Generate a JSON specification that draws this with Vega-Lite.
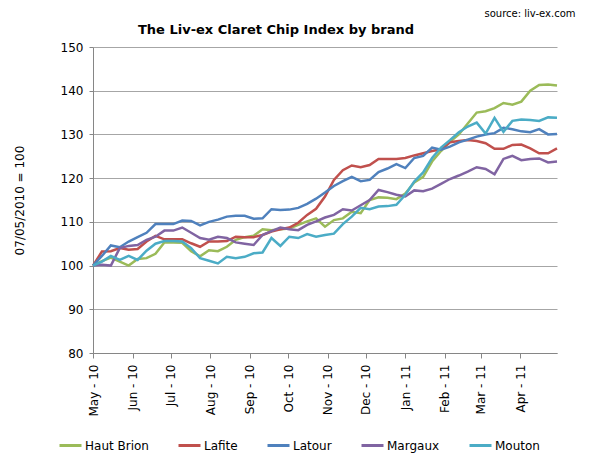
{
"$schema":"https://vega.github.io/schema/vega-lite/v6.json",
"width":464,"height":306,
"autosize":{"type":"none"},
"padding":{"left":93,"top":47,"right":43,"bottom":116},
"background":"white",
"config":{"view":{"stroke":null},"font":"DejaVu Sans"},
"title":{"text":"The Liv-ex Claret Chip Index by brand","font":"DejaVu Sans","fontSize":13,"fontWeight":"bold","color":"black","anchor":"middle","dx":-49,"dy":39,"offset":10},
"data":{"values":[
{"d":"2010-05-07","s":"Haut Brion","v":100},{"d":"2010-05-14","s":"Haut Brion","v":101.0},{"d":"2010-05-21","s":"Haut Brion","v":101.8},{"d":"2010-05-28","s":"Haut Brion","v":100.9},{"d":"2010-06-04","s":"Haut Brion","v":100.0},{"d":"2010-06-11","s":"Haut Brion","v":101.5},{"d":"2010-06-18","s":"Haut Brion","v":101.7},{"d":"2010-06-25","s":"Haut Brion","v":102.7},{"d":"2010-07-02","s":"Haut Brion","v":105.3},{"d":"2010-07-09","s":"Haut Brion","v":105.3},
{"d":"2010-07-16","s":"Haut Brion","v":105.2},{"d":"2010-07-23","s":"Haut Brion","v":103.3},{"d":"2010-07-30","s":"Haut Brion","v":102.1},{"d":"2010-08-06","s":"Haut Brion","v":103.5},{"d":"2010-08-13","s":"Haut Brion","v":103.3},{"d":"2010-08-20","s":"Haut Brion","v":104.3},{"d":"2010-08-27","s":"Haut Brion","v":105.9},{"d":"2010-09-03","s":"Haut Brion","v":106.5},{"d":"2010-09-10","s":"Haut Brion","v":106.8},{"d":"2010-09-17","s":"Haut Brion","v":108.3},
{"d":"2010-09-24","s":"Haut Brion","v":108.1},{"d":"2010-10-01","s":"Haut Brion","v":108.3},{"d":"2010-10-08","s":"Haut Brion","v":108.5},{"d":"2010-10-15","s":"Haut Brion","v":109.3},{"d":"2010-10-22","s":"Haut Brion","v":110.1},{"d":"2010-10-29","s":"Haut Brion","v":110.8},{"d":"2010-11-05","s":"Haut Brion","v":108.9},{"d":"2010-11-12","s":"Haut Brion","v":110.4},{"d":"2010-11-19","s":"Haut Brion","v":110.8},{"d":"2010-11-26","s":"Haut Brion","v":112.3},
{"d":"2010-12-03","s":"Haut Brion","v":112.0},{"d":"2010-12-10","s":"Haut Brion","v":115.0},{"d":"2010-12-17","s":"Haut Brion","v":115.6},{"d":"2010-12-24","s":"Haut Brion","v":115.5},{"d":"2010-12-31","s":"Haut Brion","v":115.2},{"d":"2011-01-07","s":"Haut Brion","v":116.5},{"d":"2011-01-14","s":"Haut Brion","v":119.0},{"d":"2011-01-21","s":"Haut Brion","v":120.3},{"d":"2011-01-28","s":"Haut Brion","v":123.8},{"d":"2011-02-04","s":"Haut Brion","v":126.2},
{"d":"2011-02-11","s":"Haut Brion","v":128.3},{"d":"2011-02-18","s":"Haut Brion","v":130.0},{"d":"2011-02-25","s":"Haut Brion","v":132.5},{"d":"2011-03-04","s":"Haut Brion","v":135.0},{"d":"2011-03-11","s":"Haut Brion","v":135.3},{"d":"2011-03-18","s":"Haut Brion","v":136.0},{"d":"2011-03-25","s":"Haut Brion","v":137.2},{"d":"2011-04-01","s":"Haut Brion","v":136.8},{"d":"2011-04-08","s":"Haut Brion","v":137.5},{"d":"2011-04-15","s":"Haut Brion","v":140.0},
{"d":"2011-04-22","s":"Haut Brion","v":141.3},{"d":"2011-04-29","s":"Haut Brion","v":141.4},{"d":"2011-05-06","s":"Haut Brion","v":141.2},

{"d":"2010-05-07","s":"Lafite","v":100},{"d":"2010-05-14","s":"Lafite","v":103.2},{"d":"2010-05-21","s":"Lafite","v":103.3},{"d":"2010-05-28","s":"Lafite","v":104.0},{"d":"2010-06-04","s":"Lafite","v":103.6},{"d":"2010-06-11","s":"Lafite","v":103.8},{"d":"2010-06-18","s":"Lafite","v":105.5},{"d":"2010-06-25","s":"Lafite","v":106.8},{"d":"2010-07-02","s":"Lafite","v":106.0},{"d":"2010-07-09","s":"Lafite","v":106.0},
{"d":"2010-07-16","s":"Lafite","v":106.0},{"d":"2010-07-23","s":"Lafite","v":105.1},{"d":"2010-07-30","s":"Lafite","v":104.3},{"d":"2010-08-06","s":"Lafite","v":105.5},{"d":"2010-08-13","s":"Lafite","v":105.5},{"d":"2010-08-20","s":"Lafite","v":105.6},{"d":"2010-08-27","s":"Lafite","v":106.6},{"d":"2010-09-03","s":"Lafite","v":106.5},{"d":"2010-09-10","s":"Lafite","v":106.5},{"d":"2010-09-17","s":"Lafite","v":107.0},
{"d":"2010-09-24","s":"Lafite","v":107.8},{"d":"2010-10-01","s":"Lafite","v":108.3},{"d":"2010-10-08","s":"Lafite","v":108.7},{"d":"2010-10-15","s":"Lafite","v":109.8},{"d":"2010-10-22","s":"Lafite","v":111.6},{"d":"2010-10-29","s":"Lafite","v":113.0},{"d":"2010-11-05","s":"Lafite","v":115.8},{"d":"2010-11-12","s":"Lafite","v":119.6},{"d":"2010-11-19","s":"Lafite","v":121.8},{"d":"2010-11-26","s":"Lafite","v":122.9},
{"d":"2010-12-03","s":"Lafite","v":122.5},{"d":"2010-12-10","s":"Lafite","v":123.0},{"d":"2010-12-17","s":"Lafite","v":124.4},{"d":"2010-12-24","s":"Lafite","v":124.4},{"d":"2010-12-31","s":"Lafite","v":124.4},{"d":"2011-01-07","s":"Lafite","v":124.6},{"d":"2011-01-14","s":"Lafite","v":125.2},{"d":"2011-01-21","s":"Lafite","v":125.7},{"d":"2011-01-28","s":"Lafite","v":126.2},{"d":"2011-02-04","s":"Lafite","v":126.6},
{"d":"2011-02-11","s":"Lafite","v":128.2},{"d":"2011-02-18","s":"Lafite","v":128.5},{"d":"2011-02-25","s":"Lafite","v":128.7},{"d":"2011-03-04","s":"Lafite","v":128.5},{"d":"2011-03-11","s":"Lafite","v":128.0},{"d":"2011-03-18","s":"Lafite","v":126.7},{"d":"2011-03-25","s":"Lafite","v":126.7},{"d":"2011-04-01","s":"Lafite","v":127.6},{"d":"2011-04-08","s":"Lafite","v":127.7},{"d":"2011-04-15","s":"Lafite","v":126.8},
{"d":"2011-04-22","s":"Lafite","v":125.7},{"d":"2011-04-29","s":"Lafite","v":125.7},{"d":"2011-05-06","s":"Lafite","v":126.8},

{"d":"2010-05-07","s":"Latour","v":100},{"d":"2010-05-14","s":"Latour","v":102.2},{"d":"2010-05-21","s":"Latour","v":104.6},{"d":"2010-05-28","s":"Latour","v":104.2},{"d":"2010-06-04","s":"Latour","v":105.5},{"d":"2010-06-11","s":"Latour","v":106.5},{"d":"2010-06-18","s":"Latour","v":107.5},{"d":"2010-06-25","s":"Latour","v":109.5},{"d":"2010-07-02","s":"Latour","v":109.5},{"d":"2010-07-09","s":"Latour","v":109.5},
{"d":"2010-07-16","s":"Latour","v":110.3},{"d":"2010-07-23","s":"Latour","v":110.2},{"d":"2010-07-30","s":"Latour","v":109.2},{"d":"2010-08-06","s":"Latour","v":110.0},{"d":"2010-08-13","s":"Latour","v":110.5},{"d":"2010-08-20","s":"Latour","v":111.2},{"d":"2010-08-27","s":"Latour","v":111.4},{"d":"2010-09-03","s":"Latour","v":111.4},{"d":"2010-09-10","s":"Latour","v":110.7},{"d":"2010-09-17","s":"Latour","v":110.8},
{"d":"2010-09-24","s":"Latour","v":112.9},{"d":"2010-10-01","s":"Latour","v":112.7},{"d":"2010-10-08","s":"Latour","v":112.8},{"d":"2010-10-15","s":"Latour","v":113.2},{"d":"2010-10-22","s":"Latour","v":114.1},{"d":"2010-10-29","s":"Latour","v":115.3},{"d":"2010-11-05","s":"Latour","v":116.7},{"d":"2010-11-12","s":"Latour","v":118.2},{"d":"2010-11-19","s":"Latour","v":119.3},{"d":"2010-11-26","s":"Latour","v":120.3},
{"d":"2010-12-03","s":"Latour","v":119.3},{"d":"2010-12-10","s":"Latour","v":119.6},{"d":"2010-12-17","s":"Latour","v":121.4},{"d":"2010-12-24","s":"Latour","v":122.2},{"d":"2010-12-31","s":"Latour","v":123.2},{"d":"2011-01-07","s":"Latour","v":122.3},{"d":"2011-01-14","s":"Latour","v":124.6},{"d":"2011-01-21","s":"Latour","v":125.1},{"d":"2011-01-28","s":"Latour","v":127.0},{"d":"2011-02-04","s":"Latour","v":126.5},
{"d":"2011-02-11","s":"Latour","v":127.2},{"d":"2011-02-18","s":"Latour","v":128.2},{"d":"2011-02-25","s":"Latour","v":128.8},{"d":"2011-03-04","s":"Latour","v":129.5},{"d":"2011-03-11","s":"Latour","v":130.0},{"d":"2011-03-18","s":"Latour","v":130.3},{"d":"2011-03-25","s":"Latour","v":131.5},{"d":"2011-04-01","s":"Latour","v":131.2},{"d":"2011-04-08","s":"Latour","v":130.7},{"d":"2011-04-15","s":"Latour","v":130.5},
{"d":"2011-04-22","s":"Latour","v":131.2},{"d":"2011-04-29","s":"Latour","v":130.0},{"d":"2011-05-06","s":"Latour","v":130.1},

{"d":"2010-05-07","s":"Margaux","v":100},{"d":"2010-05-14","s":"Margaux","v":100.2},{"d":"2010-05-21","s":"Margaux","v":100.0},{"d":"2010-05-28","s":"Margaux","v":104.0},{"d":"2010-06-04","s":"Margaux","v":104.5},{"d":"2010-06-11","s":"Margaux","v":104.7},{"d":"2010-06-18","s":"Margaux","v":105.9},{"d":"2010-06-25","s":"Margaux","v":106.6},{"d":"2010-07-02","s":"Margaux","v":108.0},{"d":"2010-07-09","s":"Margaux","v":108.0},
{"d":"2010-07-16","s":"Margaux","v":108.7},{"d":"2010-07-23","s":"Margaux","v":107.5},{"d":"2010-07-30","s":"Margaux","v":106.3},{"d":"2010-08-06","s":"Margaux","v":105.9},{"d":"2010-08-13","s":"Margaux","v":106.6},{"d":"2010-08-20","s":"Margaux","v":106.3},{"d":"2010-08-27","s":"Margaux","v":105.3},{"d":"2010-09-03","s":"Margaux","v":105.0},{"d":"2010-09-10","s":"Margaux","v":104.7},{"d":"2010-09-17","s":"Margaux","v":107.0},
{"d":"2010-09-24","s":"Margaux","v":107.9},{"d":"2010-10-01","s":"Margaux","v":108.7},{"d":"2010-10-08","s":"Margaux","v":108.3},{"d":"2010-10-15","s":"Margaux","v":108.1},{"d":"2010-10-22","s":"Margaux","v":109.3},{"d":"2010-10-29","s":"Margaux","v":110.1},{"d":"2010-11-05","s":"Margaux","v":111.0},{"d":"2010-11-12","s":"Margaux","v":111.6},{"d":"2010-11-19","s":"Margaux","v":112.9},{"d":"2010-11-26","s":"Margaux","v":112.6},
{"d":"2010-12-03","s":"Margaux","v":113.8},{"d":"2010-12-10","s":"Margaux","v":115.0},{"d":"2010-12-17","s":"Margaux","v":117.3},{"d":"2010-12-24","s":"Margaux","v":116.8},{"d":"2010-12-31","s":"Margaux","v":116.2},{"d":"2011-01-07","s":"Margaux","v":115.8},{"d":"2011-01-14","s":"Margaux","v":117.2},{"d":"2011-01-21","s":"Margaux","v":117.0},{"d":"2011-01-28","s":"Margaux","v":117.6},{"d":"2011-02-04","s":"Margaux","v":118.7},
{"d":"2011-02-11","s":"Margaux","v":119.8},{"d":"2011-02-18","s":"Margaux","v":120.6},{"d":"2011-02-25","s":"Margaux","v":121.5},{"d":"2011-03-04","s":"Margaux","v":122.5},{"d":"2011-03-11","s":"Margaux","v":122.1},{"d":"2011-03-18","s":"Margaux","v":120.9},{"d":"2011-03-25","s":"Margaux","v":124.4},{"d":"2011-04-01","s":"Margaux","v":125.1},{"d":"2011-04-08","s":"Margaux","v":124.1},{"d":"2011-04-15","s":"Margaux","v":124.4},
{"d":"2011-04-22","s":"Margaux","v":124.5},{"d":"2011-04-29","s":"Margaux","v":123.6},{"d":"2011-05-06","s":"Margaux","v":123.8},

{"d":"2010-05-07","s":"Mouton","v":100},{"d":"2010-05-14","s":"Mouton","v":100.9},{"d":"2010-05-21","s":"Mouton","v":102.2},{"d":"2010-05-28","s":"Mouton","v":101.3},{"d":"2010-06-04","s":"Mouton","v":102.2},{"d":"2010-06-11","s":"Mouton","v":101.3},{"d":"2010-06-18","s":"Mouton","v":103.4},{"d":"2010-06-25","s":"Mouton","v":105.0},{"d":"2010-07-02","s":"Mouton","v":105.6},{"d":"2010-07-09","s":"Mouton","v":105.6},
{"d":"2010-07-16","s":"Mouton","v":105.5},{"d":"2010-07-23","s":"Mouton","v":104.0},{"d":"2010-07-30","s":"Mouton","v":101.7},{"d":"2010-08-06","s":"Mouton","v":101.1},{"d":"2010-08-13","s":"Mouton","v":100.5},{"d":"2010-08-20","s":"Mouton","v":102.0},{"d":"2010-08-27","s":"Mouton","v":101.7},{"d":"2010-09-03","s":"Mouton","v":102.0},{"d":"2010-09-10","s":"Mouton","v":102.8},{"d":"2010-09-17","s":"Mouton","v":103.0},
{"d":"2010-09-24","s":"Mouton","v":106.3},{"d":"2010-10-01","s":"Mouton","v":104.5},{"d":"2010-10-08","s":"Mouton","v":106.6},{"d":"2010-10-15","s":"Mouton","v":106.3},{"d":"2010-10-22","s":"Mouton","v":107.2},{"d":"2010-10-29","s":"Mouton","v":106.6},{"d":"2010-11-05","s":"Mouton","v":107.0},{"d":"2010-11-12","s":"Mouton","v":107.3},{"d":"2010-11-19","s":"Mouton","v":109.5},{"d":"2010-11-26","s":"Mouton","v":111.2},
{"d":"2010-12-03","s":"Mouton","v":113.2},{"d":"2010-12-10","s":"Mouton","v":112.9},{"d":"2010-12-17","s":"Mouton","v":113.5},{"d":"2010-12-24","s":"Mouton","v":113.6},{"d":"2010-12-31","s":"Mouton","v":113.9},{"d":"2011-01-07","s":"Mouton","v":116.2},{"d":"2011-01-14","s":"Mouton","v":119.2},{"d":"2011-01-21","s":"Mouton","v":121.3},{"d":"2011-01-28","s":"Mouton","v":124.6},{"d":"2011-02-04","s":"Mouton","v":127.0},
{"d":"2011-02-11","s":"Mouton","v":128.7},{"d":"2011-02-18","s":"Mouton","v":130.5},{"d":"2011-02-25","s":"Mouton","v":131.8},{"d":"2011-03-04","s":"Mouton","v":132.7},{"d":"2011-03-11","s":"Mouton","v":130.2},{"d":"2011-03-18","s":"Mouton","v":133.8},{"d":"2011-03-25","s":"Mouton","v":130.6},{"d":"2011-04-01","s":"Mouton","v":133.1},{"d":"2011-04-08","s":"Mouton","v":133.4},{"d":"2011-04-15","s":"Mouton","v":133.3},
{"d":"2011-04-22","s":"Mouton","v":133.1},{"d":"2011-04-29","s":"Mouton","v":133.9},{"d":"2011-05-06","s":"Mouton","v":133.8}
]},
"layer":[
{"mark":{"type":"line","strokeWidth":2.5},
 "encoding":{
  "x":{"field":"d","type":"temporal",
   "scale":{"type":"utc","domain":[{"year":2010,"month":5,"date":7,"utc":true},{"year":2011,"month":5,"date":6,"utc":true}]},
   "axis":{"title":null,"grid":false,"format":"%b - %y","labelAngle":270,"labelFontSize":12,"labelColor":"black","labelPadding":6,"tickSize":5,"tickColor":"#868686","domainColor":"#868686",
    "values":[{"year":2010,"month":5,"date":7,"utc":true},{"year":2010,"month":6,"date":7,"utc":true},{"year":2010,"month":7,"date":7,"utc":true},{"year":2010,"month":8,"date":7,"utc":true},{"year":2010,"month":9,"date":7,"utc":true},{"year":2010,"month":10,"date":7,"utc":true},{"year":2010,"month":11,"date":7,"utc":true},{"year":2010,"month":12,"date":7,"utc":true},{"year":2011,"month":1,"date":7,"utc":true},{"year":2011,"month":2,"date":7,"utc":true},{"year":2011,"month":3,"date":7,"utc":true},{"year":2011,"month":4,"date":7,"utc":true}]}},
  "y":{"field":"v","type":"quantitative","scale":{"domain":[80,150],"nice":false,"zero":false},
   "axis":{"values":[80,90,100,110,120,130,140,150],"grid":true,"gridColor":"#a6a6a6","domainColor":"#868686","tickColor":"#868686","tickSize":4,"labelFontSize":12,"labelColor":"black","labelPadding":6,"title":"07/05/2010 = 100","titleFontSize":12,"titleFontWeight":"normal","titleColor":"black","titlePadding":34}},
  "color":{"field":"s","type":"nominal","scale":{"domain":["Haut Brion","Lafite","Latour","Margaux","Mouton"],"range":["#9BBB59","#C0504D","#4F81BD","#8064A2","#4BACC6"]},
   "legend":{"orient":"none","legendX":-35,"legendY":386,"direction":"horizontal","columns":5,"gridAlign":"none","title":null,"padding":0,"symbolType":"stroke","symbolSize":484,"symbolStrokeWidth":3,"labelFontSize":12,"labelColor":"black","labelOffset":2,"columnPadding":23}}
 }},
{"mark":{"type":"point","opacity":0},
 "encoding":{
  "x":{"field":"d","type":"temporal","axis":{"orient":"top","labels":false,"ticks":false,"domain":false,"grid":false,"title":"source: liv-ex.com","titleFontSize":10,"titleFontWeight":"normal","titleColor":"black","titleAlign":"right","titleAnchor":"end","titleBaseline":"middle","titleX":482,"titleY":-34}},
  "y":{"field":"v","type":"quantitative"}
 }}
],
"resolve":{"axis":{"x":"independent"}}
}
